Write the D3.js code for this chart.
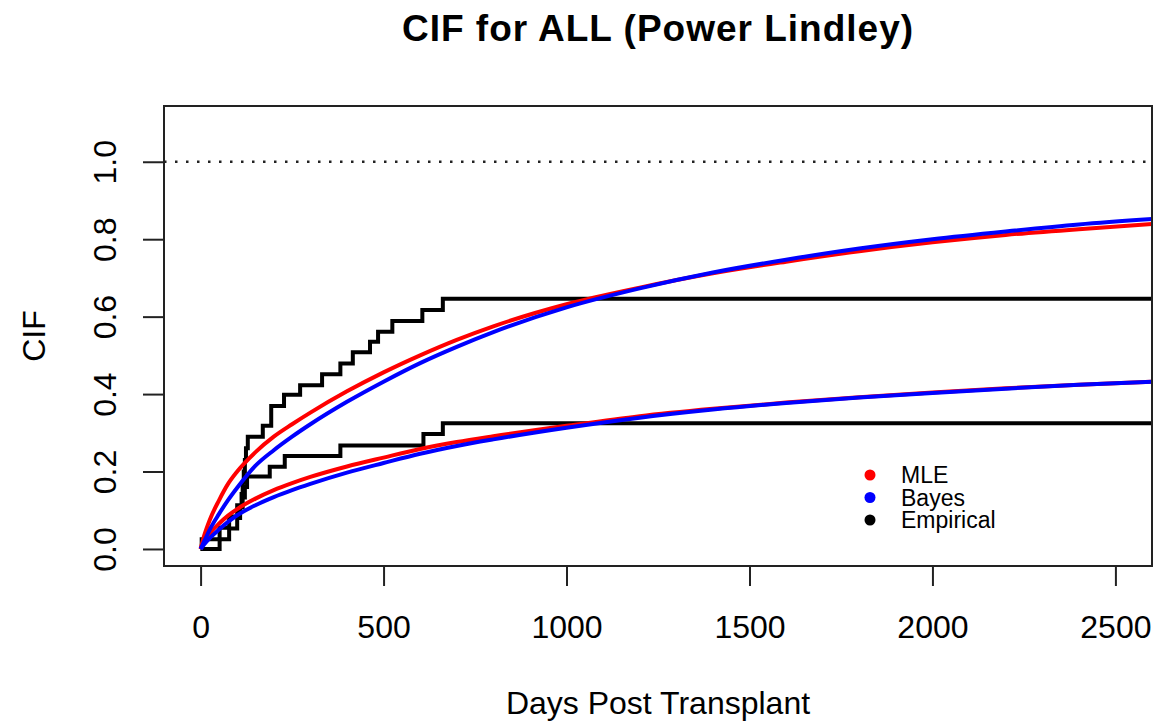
<!DOCTYPE html>
<html>
<head>
<meta charset="utf-8">
<script src="https://cdn.jsdelivr.net/npm/d3@7"></script>
<style>
  html, body { margin: 0; padding: 0; background: #fff; }
  svg text { font-family: "Liberation Sans", Arial, Helvetica, sans-serif; fill: #000; }
</style>
</head>
<body>
<svg id="chart" width="1163" height="726"></svg>
<script>
// ---- data ----
const title = "CIF for ALL (Power Lindley)";
const xLabel = "Days Post Transplant";
const yLabel = "CIF";
const xTicks = [0, 500, 1000, 1500, 2000, 2500];
const yTicks = [0.0, 0.2, 0.4, 0.6, 0.8, 1.0];
const xLimits = [0, 2500];
const yLimits = [0, 1.1];
const refLine = 1.0;

const curveDays   = [0, 10, 25, 50, 75, 100, 150, 200, 250, 300, 400, 500, 600, 700, 800, 1000, 1200, 1400, 1600, 1800, 2000, 2200, 2400, 2600];
const mleCause1   = [0, 0.035, 0.075, 0.125, 0.168, 0.200, 0.250, 0.290, 0.322, 0.352, 0.407, 0.456, 0.500, 0.540, 0.575, 0.632, 0.675, 0.712, 0.742, 0.769, 0.792, 0.811, 0.826, 0.839];
const bayesCause1 = [0, 0.020, 0.050, 0.090, 0.126, 0.158, 0.215, 0.255, 0.290, 0.322, 0.380, 0.432, 0.480, 0.522, 0.560, 0.624, 0.673, 0.714, 0.747, 0.776, 0.800, 0.820, 0.838, 0.852];
const mleCause2   = [0, 0.020, 0.040, 0.065, 0.086, 0.103, 0.130, 0.152, 0.170, 0.186, 0.213, 0.236, 0.258, 0.276, 0.291, 0.318, 0.343, 0.362, 0.378, 0.392, 0.404, 0.415, 0.424, 0.432];
const bayesCause2 = [0, 0.012, 0.028, 0.050, 0.070, 0.087, 0.113, 0.134, 0.152, 0.168, 0.197, 0.222, 0.246, 0.266, 0.283, 0.313, 0.339, 0.360, 0.377, 0.391, 0.403, 0.414, 0.424, 0.432];

// empirical step functions
const empTimes1  = [0, 3, 52, 78, 100, 112, 115, 118, 121, 124, 129, 170, 193, 228, 272, 332, 382, 416, 463, 485, 524, 606, 662, 2600];
const empValues1 = [0, 0.025, 0.055, 0.084, 0.113, 0.142, 0.171, 0.200, 0.230, 0.260, 0.290, 0.318, 0.369, 0.398, 0.423, 0.451, 0.479, 0.508, 0.535, 0.561, 0.589, 0.617, 0.646, 0.646];
const empTimes2  = [0, 52, 78, 100, 108, 115, 121, 127, 189, 230, 382, 609, 662, 2600];
const empValues2 = [0, 0.025, 0.053, 0.080, 0.107, 0.133, 0.160, 0.187, 0.2125, 0.240, 0.267, 0.297, 0.3245, 0.3245];

const legendLabels = ["MLE", "Bayes", "Empirical"];
const legendColors = ["#ff0000", "#0000ff", "#000000"];

// ---- layout ----
const svg = d3.select("#chart");
const plot = { left: 164, top: 106, right: 1152, bottom: 566 };

const xPad = (xLimits[1] - xLimits[0]) * 0.04;
const yPad = (yLimits[1] - yLimits[0]) * 0.04;
const x = d3.scaleLinear().domain([xLimits[0] - xPad, xLimits[1] + xPad]).range([plot.left, plot.right]);
const y = d3.scaleLinear().domain([yLimits[0] - yPad, yLimits[1] + yPad]).range([plot.bottom, plot.top]);

svg.append("defs").append("clipPath").attr("id", "clip")
  .append("rect").attr("x", plot.left).attr("y", plot.top)
  .attr("width", plot.right - plot.left).attr("height", plot.bottom - plot.top);

const g = svg.append("g").attr("clip-path", "url(#clip)");

// reference line
g.append("line")
  .attr("x1", plot.left).attr("x2", plot.right)
  .attr("y1", y(refLine)).attr("y2", y(refLine))
  .attr("stroke", "#222").attr("stroke-width", 2.5)
  .attr("stroke-dasharray", "2.5 8.5");

const stepLine = d3.line().x(d => x(d[0])).y(d => y(d[1])).curve(d3.curveStepAfter);
[[empTimes1, empValues1], [empTimes2, empValues2]].forEach(([t, v]) => {
  g.append("path")
    .datum(t.map((d, i) => [d, v[i]]))
    .attr("d", stepLine)
    .attr("fill", "none").attr("stroke", "#000").attr("stroke-width", 4)
    .attr("stroke-linejoin", "miter");
});

const smooth = d3.line().x(d => x(d[0])).y(d => y(d[1])).curve(d3.curveMonotoneX);
[[mleCause1, "#ff0000"], [mleCause2, "#ff0000"], [bayesCause1, "#0000ff"], [bayesCause2, "#0000ff"]].forEach(([vals, col]) => {
  g.append("path")
    .datum(curveDays.map((d, i) => [d, vals[i]]))
    .attr("d", smooth)
    .attr("fill", "none").attr("stroke", col).attr("stroke-width", 4);
});

// frame
svg.append("rect")
  .attr("x", plot.left).attr("y", plot.top)
  .attr("width", plot.right - plot.left).attr("height", plot.bottom - plot.top)
  .attr("fill", "none").attr("stroke", "#222").attr("stroke-width", 2);

// x axis
const xAxis = svg.append("g").attr("transform", `translate(0,${plot.bottom})`)
  .call(d3.axisBottom(x).tickValues(xTicks).tickSize(20).tickSizeOuter(0).tickFormat(d3.format("d")));
xAxis.select(".domain").attr("stroke", "#222").attr("stroke-width", 2)
  .attr("d", `M${x(xTicks[0])},0H${x(xTicks[xTicks.length - 1])}`);
xAxis.selectAll(".tick line").attr("stroke", "#222").attr("stroke-width", 2);
xAxis.selectAll(".tick text").attr("font-size", 32)
  .attr("font-family", "'Liberation Sans', Arial, sans-serif").attr("fill", "#000")
  .attr("dy", null).attr("y", 72);

// y axis
const yAxis = svg.append("g").attr("transform", `translate(${plot.left},0)`)
  .call(d3.axisLeft(y).tickValues(yTicks).tickSize(21).tickSizeOuter(0).tickFormat(d3.format(".1f")));
yAxis.select(".domain").attr("stroke", "#222").attr("stroke-width", 2)
  .attr("d", `M0,${y(yTicks[0])}V${y(yTicks[yTicks.length - 1])}`);
yAxis.selectAll(".tick line").attr("stroke", "#222").attr("stroke-width", 2);
yAxis.selectAll(".tick text").remove();
yAxis.selectAll(".tick").append("text")
  .attr("transform", "translate(-48,0) rotate(-90)")
  .attr("text-anchor", "middle").attr("font-size", 32)
  .attr("font-family", "'Liberation Sans', Arial, sans-serif").attr("fill", "#000")
  .text(d => d3.format(".1f")(d));

// titles
svg.append("text").attr("x", (plot.left + plot.right) / 2).attr("y", 41)
  .attr("text-anchor", "middle").attr("font-size", 37).attr("font-weight", "bold")
  .attr("letter-spacing", 1)
  .text(title);
svg.append("text").attr("x", (plot.left + plot.right) / 2).attr("y", 714)
  .attr("text-anchor", "middle").attr("font-size", 32).text(xLabel);
svg.append("text").attr("transform", `translate(45,${(plot.top + plot.bottom) / 2}) rotate(-90)`)
  .attr("text-anchor", "middle").attr("font-size", 32).text(yLabel);

// legend
const leg = svg.append("g");
legendLabels.forEach((lab, i) => {
  const ly = 475 + i * 22.5;
  leg.append("circle").attr("cx", 870).attr("cy", ly).attr("r", 5.5).attr("fill", legendColors[i]);
  leg.append("text").attr("x", 901).attr("y", ly).attr("dy", "0.36em")
    .attr("font-size", 23).text(lab);
});
</script>
</body>
</html>
